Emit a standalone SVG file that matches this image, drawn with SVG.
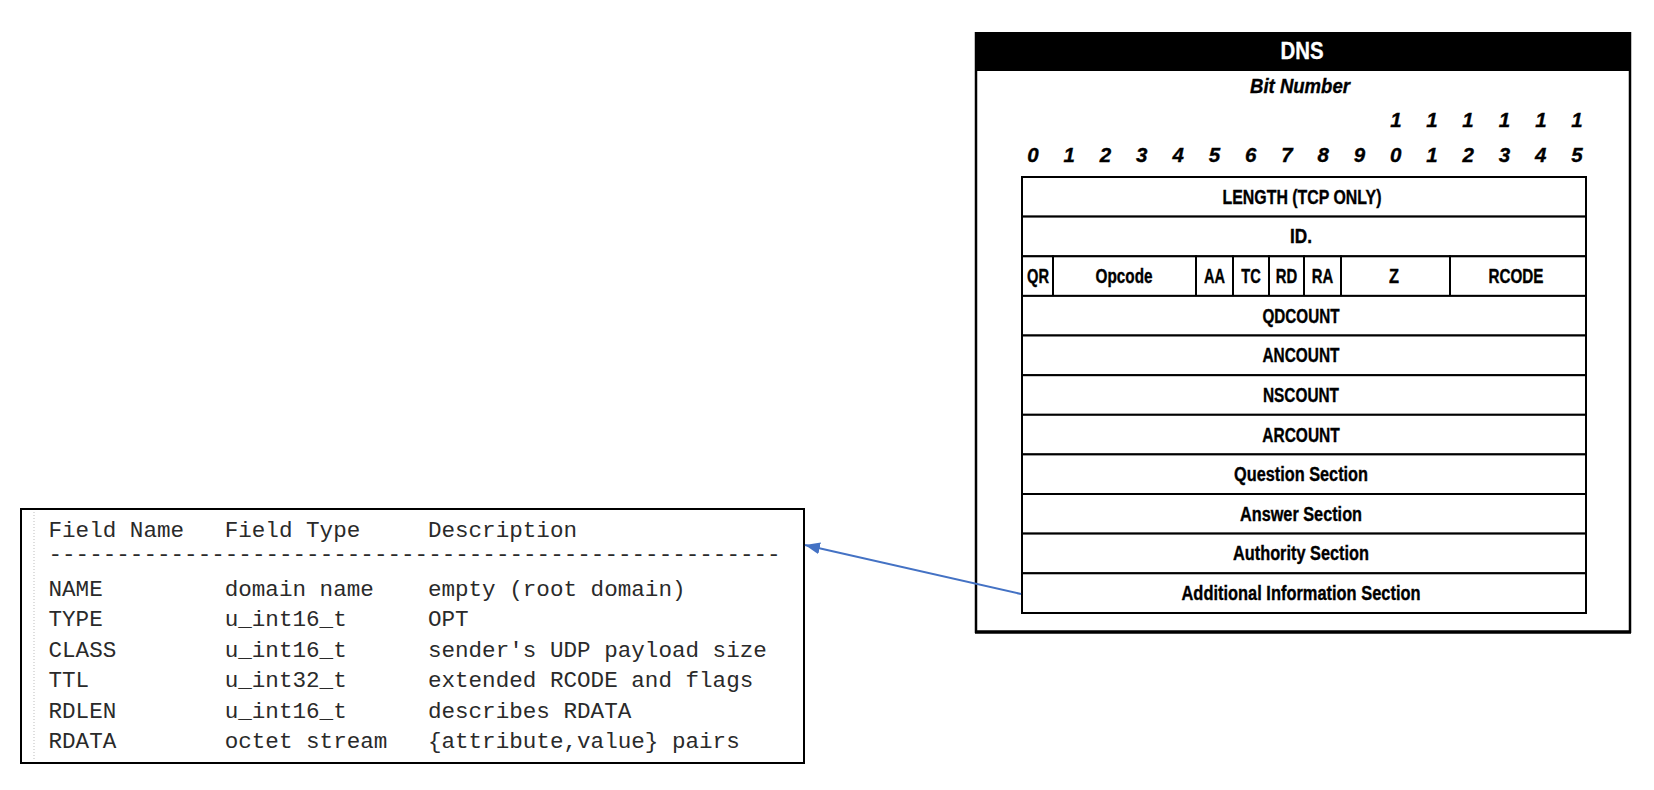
<svg xmlns="http://www.w3.org/2000/svg" width="1654" height="790" viewBox="0 0 1654 790">
<style>
.mono{font-family:"Liberation Mono","Courier New",monospace;font-size:22.6px;fill:#2a2a2a}
.lbl{font-family:"Liberation Sans",Arial,sans-serif;font-weight:bold;font-size:19.5px;fill:#000;stroke:#000;stroke-width:0.35;text-anchor:middle}
.it{font-style:italic}
.dig{font-size:20.5px}
.cell{fill:#fff;stroke:#000;stroke-width:2}
.edge{stroke:#000;stroke-width:2.5;fill:none}
.conn{stroke:#4472C4;stroke-width:2;fill:none}
</style>
<defs>
<marker id="arrow" markerUnits="userSpaceOnUse" markerWidth="16" markerHeight="12" refX="15" refY="6" orient="auto">
<path d="M0,0 L15,6 L0,12 Z" fill="#4472C4"/>
</marker>
</defs>
<rect width="1654" height="790" fill="#fff"/>

<g id="opt-record-table">
<rect x="21" y="509" width="783" height="254" fill="#fff" stroke="#000" stroke-width="2"/>
<line x1="34" y1="512" x2="34" y2="761" stroke="#bdbdbd" stroke-width="1" stroke-dasharray="1,2"/>
<g class="mono">
<text x="48.5" y="537">Field Name</text><text x="224.7" y="537">Field Type</text><text x="427.9" y="537">Description</text>
<text x="48.5" y="561">------------------------------------------------------</text>
<text x="48.5" y="596">NAME</text><text x="224.7" y="596">domain name</text><text x="427.9" y="596">empty (root domain)</text>
<text x="48.5" y="626">TYPE</text><text x="224.7" y="626">u_int16_t</text><text x="427.9" y="626">OPT</text>
<text x="48.5" y="657">CLASS</text><text x="224.7" y="657">u_int16_t</text><text x="427.9" y="657">sender's UDP payload size</text>
<text x="48.5" y="687">TTL</text><text x="224.7" y="687">u_int32_t</text><text x="427.9" y="687">extended RCODE and flags</text>
<text x="48.5" y="718">RDLEN</text><text x="224.7" y="718">u_int16_t</text><text x="427.9" y="718">describes RDATA</text>
<text x="48.5" y="748">RDATA</text><text x="224.7" y="748">octet stream</text><text x="427.9" y="748">{attribute,value} pairs</text>
</g>
</g>

<g id="dns-message">
<rect x="975" y="32" width="655" height="39" fill="#000"/>
<line class="edge" x1="976" y1="32" x2="976" y2="633"/>
<line class="edge" x1="1630" y1="32" x2="1630" y2="633"/>
<line x1="975" y1="632" x2="1631" y2="632" stroke="#000" stroke-width="3.5"/>
<text class="lbl" x="1302" y="59" style="fill:#fff;stroke:#fff;font-size:23px" textLength="43" lengthAdjust="spacingAndGlyphs">DNS</text>
<text class="lbl it" x="1300" y="93" textLength="100" lengthAdjust="spacingAndGlyphs">Bit Number</text>
<g id="bit-numbers" class="lbl it dig">
<text x="1396" y="127">1</text><text x="1432" y="127">1</text><text x="1468" y="127">1</text><text x="1504.5" y="127">1</text><text x="1541" y="127">1</text><text x="1577" y="127">1</text>
<text x="1033" y="162">0</text><text x="1069.3" y="162">1</text><text x="1105.5" y="162">2</text><text x="1141.8" y="162">3</text><text x="1178.1" y="162">4</text><text x="1214.4" y="162">5</text><text x="1250.6" y="162">6</text><text x="1286.9" y="162">7</text><text x="1323.2" y="162">8</text><text x="1359.4" y="162">9</text><text x="1395.7" y="162">0</text><text x="1432" y="162">1</text><text x="1468.2" y="162">2</text><text x="1504.5" y="162">3</text><text x="1540.8" y="162">4</text><text x="1577" y="162">5</text>
</g>

<g id="field-length"><rect class="cell" x="1022" y="177" width="564" height="39.6"/><text class="lbl" x="1302" y="203.8" textLength="159" lengthAdjust="spacingAndGlyphs">LENGTH (TCP ONLY)</text></g>
<g id="field-id"><rect class="cell" x="1022" y="216.6" width="564" height="39.7"/><text class="lbl" x="1301" y="243.4" textLength="22" lengthAdjust="spacingAndGlyphs">ID.</text></g>
<g id="field-flags">
<rect class="cell" x="1022" y="256.3" width="31" height="39.6"/><text class="lbl" x="1038" y="283.1" textLength="22" lengthAdjust="spacingAndGlyphs">QR</text>
<rect class="cell" x="1053" y="256.3" width="143" height="39.6"/><text class="lbl" x="1124" y="283.1" textLength="57" lengthAdjust="spacingAndGlyphs">Opcode</text>
<rect class="cell" x="1196" y="256.3" width="37" height="39.6"/><text class="lbl" x="1214.5" y="283.1" textLength="21" lengthAdjust="spacingAndGlyphs">AA</text>
<rect class="cell" x="1233" y="256.3" width="36" height="39.6"/><text class="lbl" x="1251" y="283.1" textLength="19.5" lengthAdjust="spacingAndGlyphs">TC</text>
<rect class="cell" x="1269" y="256.3" width="35" height="39.6"/><text class="lbl" x="1286.5" y="283.1" textLength="21.5" lengthAdjust="spacingAndGlyphs">RD</text>
<rect class="cell" x="1304" y="256.3" width="37" height="39.6"/><text class="lbl" x="1322.5" y="283.1" textLength="21.5" lengthAdjust="spacingAndGlyphs">RA</text>
<rect class="cell" x="1341" y="256.3" width="109" height="39.6"/><text class="lbl" x="1394" y="283.1" textLength="10" lengthAdjust="spacingAndGlyphs">Z</text>
<rect class="cell" x="1450" y="256.3" width="136" height="39.6"/><text class="lbl" x="1516" y="283.1" textLength="55" lengthAdjust="spacingAndGlyphs">RCODE</text>
</g>
<g id="field-qdcount"><rect class="cell" x="1022" y="295.9" width="564" height="39.6"/><text class="lbl" x="1301" y="322.7" textLength="77" lengthAdjust="spacingAndGlyphs">QDCOUNT</text></g>
<g id="field-ancount"><rect class="cell" x="1022" y="335.5" width="564" height="39.7"/><text class="lbl" x="1301" y="362.3" textLength="77" lengthAdjust="spacingAndGlyphs">ANCOUNT</text></g>
<g id="field-nscount"><rect class="cell" x="1022" y="375.2" width="564" height="39.6"/><text class="lbl" x="1301" y="402" textLength="76" lengthAdjust="spacingAndGlyphs">NSCOUNT</text></g>
<g id="field-arcount"><rect class="cell" x="1022" y="414.8" width="564" height="39.6"/><text class="lbl" x="1301" y="441.6" textLength="77.5" lengthAdjust="spacingAndGlyphs">ARCOUNT</text></g>
<g id="section-question"><rect class="cell" x="1022" y="454.4" width="564" height="39.6"/><text class="lbl" x="1301" y="481.2" textLength="134" lengthAdjust="spacingAndGlyphs">Question Section</text></g>
<g id="section-answer"><rect class="cell" x="1022" y="494" width="564" height="39.6"/><text class="lbl" x="1301" y="520.8" textLength="122" lengthAdjust="spacingAndGlyphs">Answer Section</text></g>
<g id="section-authority"><rect class="cell" x="1022" y="533.6" width="564" height="39.7"/><text class="lbl" x="1301" y="560.4" textLength="136" lengthAdjust="spacingAndGlyphs">Authority Section</text></g>
<g id="section-additional"><rect class="cell" x="1022" y="573.3" width="564" height="39.7"/><text class="lbl" x="1301" y="600.1" textLength="239" lengthAdjust="spacingAndGlyphs">Additional Information Section</text></g>
</g>

<g id="connectors">
<line class="conn" x1="1021" y1="594" x2="805" y2="545" marker-end="url(#arrow)"/>
</g>
</svg>
